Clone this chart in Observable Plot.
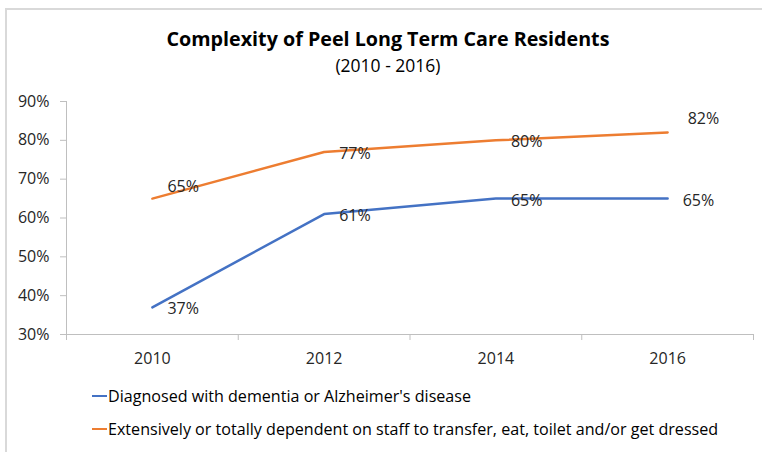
<!DOCTYPE html>
<html>
<head>
<meta charset="utf-8">
<script src="https://cdn.jsdelivr.net/npm/d3@7"></script>
<script src="https://cdn.jsdelivr.net/npm/@observablehq/plot@0.6"></script>
<style>
  html, body { margin: 0; padding: 0; background: #fff; }
  #wrap { position: relative; width: 762px; height: 452px; overflow: hidden; font-family: "Open Sans", Lato, sans-serif; color: #262626; }
  #frame { position: absolute; left: 5px; top: 8px; width: 800px; height: 500px; border-left: 2px solid #d9d9d9; border-top: 2px solid #d9d9d9; }
  #title { position: absolute; left: 0; width: 776px; top: 25px; text-align: center; font-weight: bold; font-size: 19.7px; color: #000; }
  #subtitle { position: absolute; left: 0; width: 776px; top: 53px; text-align: center; font-size: 17.5px; color: #000; }
  #chart { position: absolute; left: 0; top: 80px; }
  .leg { position: absolute; left: 92px; font-size: 16.1px; display: flex; align-items: center; color: #000; }
  .sw { width: 15px; height: 2.5px; margin-right: 1px; }
</style>
</head>
<body>
<div id="wrap">
  <div id="frame"></div>
  <div id="title">Complexity of Peel Long Term Care Residents</div>
  <div id="subtitle">(2010 - 2016)</div>
  <div id="chart"></div>
  <div id="legend"></div>
</div>
<script>
const years = [2010, 2012, 2014, 2016];
const dementia = [37, 61, 65, 65];
const dependent = [65, 77, 80, 82];
const seriesNames = [
  "Diagnosed with dementia or Alzheimer's disease",
  "Extensively or totally dependent on staff to transfer, eat, toilet and/or get dressed"
];
const seriesColors = ["#4472C4", "#ED7D31"];
const yTicks = [30, 40, 50, 60, 70, 80, 90];
const bandEdges = [2009, 2011, 2013, 2015, 2017];

const rows = [];
years.forEach((yr, i) => {
  rows.push({year: yr, value: dementia[i], series: seriesNames[0]});
  rows.push({year: yr, value: dependent[i], series: seriesNames[1]});
});
const blue = rows.filter(d => d.series === seriesNames[0]);
const orange = rows.filter(d => d.series === seriesNames[1]);
const fmt = d => d.value + "%";
const FS = 16;

const plot = Plot.plot({
  width: 762,
  height: 300,
  marginLeft: 66,
  marginRight: 9,
  marginTop: 21,
  marginBottom: 46,
  style: {fontFamily: "'Open Sans', Lato, sans-serif", color: "#262626", background: "transparent"},
  x: {type: "linear", domain: [2009, 2017]},
  y: {domain: [30, 90]},
  color: {domain: seriesNames, range: seriesColors},
  marks: [
    Plot.ruleY([30], {stroke: "#bfbfbf", strokeWidth: 1}),
    Plot.ruleX([2009], {stroke: "#bfbfbf", strokeWidth: 1}),
    Plot.axisY({ticks: yTicks, tickFormat: d => d + "%", tickSize: 6, tickPadding: 11, stroke: "#bfbfbf", fontSize: FS, fill: "#262626", label: null}),
    Plot.axisX({ticks: bandEdges, tickFormat: () => "", tickSize: 6, stroke: "#bfbfbf", label: null}),
    Plot.axisX({ticks: years, tickFormat: d => String(d), tickSize: 0, tickPadding: 18, fontSize: FS, fill: "#262626", label: null}),
    Plot.line(rows, {x: "year", y: "value", z: "series", stroke: "series", strokeWidth: 2.5}),
    Plot.text(blue, {x: "year", y: "value", text: fmt, textAnchor: "start", dx: 15, dy: 2, fontSize: FS, fill: "#262626"}),
    Plot.text(orange.filter(d => d.year === 2010), {x: "year", y: "value", text: fmt, textAnchor: "start", dx: 15, dy: -12, fontSize: FS, fill: "#262626"}),
    Plot.text(orange.filter(d => d.year === 2012 || d.year === 2014), {x: "year", y: "value", text: fmt, textAnchor: "start", dx: 15, dy: 2, fontSize: FS, fill: "#262626"}),
    Plot.text(orange.filter(d => d.year === 2016), {x: "year", y: "value", text: fmt, textAnchor: "start", dx: 20, dy: -14, fontSize: FS, fill: "#262626"})
  ]
});
document.getElementById("chart").appendChild(plot);

const legend = document.getElementById("legend");
const legTops = [385, 418];
seriesNames.forEach((name, i) => {
  const div = document.createElement("div");
  div.className = "leg";
  div.style.top = legTops[i] + "px";
  const sw = document.createElement("span");
  sw.className = "sw";
  sw.style.background = seriesColors[i];
  const tx = document.createElement("span");
  tx.textContent = name;
  div.appendChild(sw);
  div.appendChild(tx);
  legend.appendChild(div);
});
</script>
</body>
</html>
